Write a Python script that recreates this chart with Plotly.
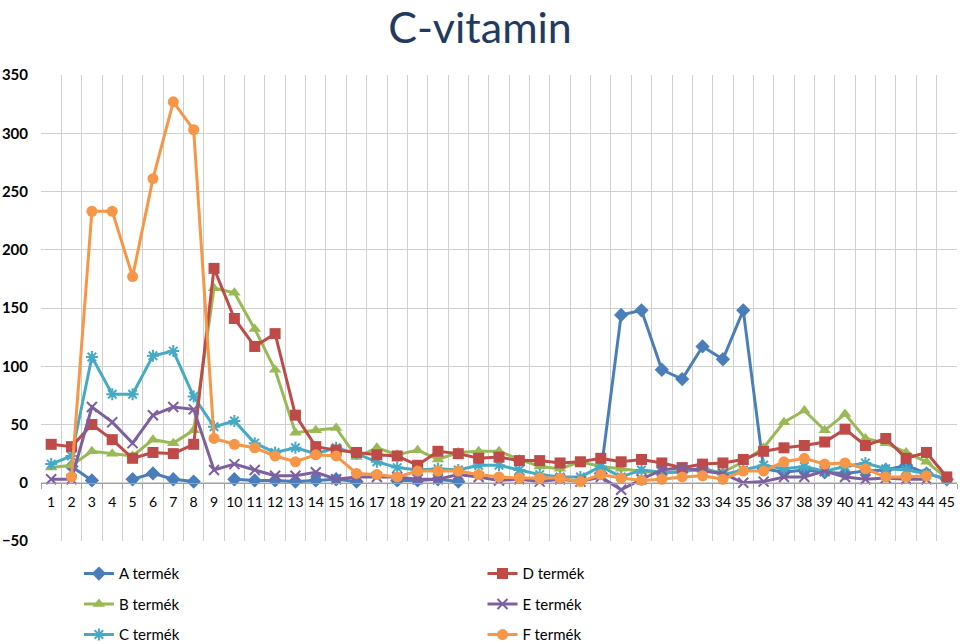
import plotly.graph_objects as go

N = None
categories = [str(i) for i in range(1, 46)]

a_termek = [N, 14, 2, N, 3, 8, 3, 1, N, 3, 2, 2, 1, 2, 3, 1, N, 2, 2, 3, 1,
            N, N, N, N, N, N, 8, 144, 148, 97, 89, 117, 106, 148, 12, 9, 11, 9, 8,
            10, 11, 15, 8, 3]
b_termek = [13, 15, 27, 25, 23, 37, 34, 45, 167, 163, 132, 97, 43, 45, 47, 22, 30, 24, 28, 20,
            26, 27, 27, 20, 14, 12, 18, 14, 12, 10, 8, 10, 11, 9, 18, 30, 52, 62, 45, 59,
            38, 34, 26, 18, 4]
c_termek = [16, 23, 108, 76, 76, 109, 113, 74, 48, 53, 34, 26, 30, 25, 30, 25, 18, 13, 11, 12,
            11, 15, 15, 11, 7, 5, 5, 14, 5, 11, 9, 9, 13, 7, 11, 15, 12, 14, 10, 14,
            17, 12, 11, 8, 3]
d_termek = [33, 31, 50, 37, 21, 26, 25, 33, 184, 141, 117, 128, 58, 31, 28, 26, 24, 23, 15, 27,
            25, 21, 22, 19, 19, 17, 18, 21, 18, 20, 17, 13, 16, 17, 20, 27, 30, 32, 35, 46,
            32, 38, 21, 26, 5]
e_termek = [3, 3, 65, 52, 34, 58, 65, 63, 11, 16, 11, 6, 6, 9, 3, 5, 5, 5, 3, 3,
            7, 5, 2, 3, 1, 3, 1, 5, -6, 3, 11, 13, 10, 8, 0, 1, 5, 5, 10, 5,
            3, 4, 3, 3, N]
f_termek = [N, 5, 233, 233, 177, 261, 327, 303, 38, 33, 30, 23, 18, 24, 23, 8, 7, 5, 10, 10,
            10, 7, 5, 4, 4, 4, 1, 7, 4, 2, 3, 5, 6, 3, 10, 10, 18, 21, 16, 17,
            12, 5, 5, 6, N]

y_ticks = [-50, 0, 50, 100, 150, 200, 250, 300, 350]

series = [
    ("A termék", a_termek, "#4A7EBB", "diamond", "legend"),
    ("B termék", b_termek, "#98B954", "triangle-up", "legend"),
    ("C termék", c_termek, "#46AAC5", "asterisk-open", "legend"),
    ("D termék", d_termek, "#BE4B48", "square", "legend2"),
    ("E termék", e_termek, "#7D60A0", "x-thin-open", "legend2"),
    ("F termék", f_termek, "#F79646", "circle", "legend2"),
]

fig = go.Figure()
for name, vals, color, sym, leg in series:
    open_sym = sym.endswith("-open")
    fig.add_trace(go.Scatter(
        x=categories, y=vals, name=name, mode="lines+markers",
        line=dict(color=color, width=3),
        marker=dict(symbol=sym, size=11 if not open_sym else 10, color=color,
                    line=dict(color=color, width=2 if open_sym else 0)),
        legend=leg, legendgroup=name,
    ))

font_family = "Lato, 'Open Sans', sans-serif"
fig.update_layout(
    width=960, height=644,
    margin=dict(l=41, r=3, t=75, b=103, autoexpand=False),
    paper_bgcolor="white", plot_bgcolor="white",
    font=dict(family=font_family, size=14, color="black"),
    title=dict(text="C-vitamin", x=0.5, xanchor="center", y=1 - 28 / 644, yanchor="middle",
               font=dict(size=43, color="#1F3B5F", family=font_family)),
    xaxis=dict(type="category", categoryorder="array", categoryarray=categories,
               tickvals=categories, ticktext=categories, tickangle=0,
               tickson="boundaries", showgrid=True, gridcolor="#D0D0D0", gridwidth=1,
               anchor="free", position=0.125, showline=True, linecolor="#A0A0A0",
               ticks="outside", ticklen=5, tickcolor="#A0A0A0",
               ticklabelstandoff=6, tickfont=dict(size=14), zeroline=False,
               range=[-0.5, 44.5]),
    yaxis=dict(range=[-50, 350], tickvals=y_ticks, showgrid=True, gridcolor="#D0D0D0",
               gridwidth=1, zeroline=False, showline=False, ticks="",
               tickfont=dict(size=15, color="black", family="Lato, sans-serif", weight="bold"),
               ticklabelstandoff=12),
    legend=dict(x=0.0414, y=-0.035, xanchor="left", yanchor="top", orientation="v",
                tracegroupgap=8, font=dict(size=15), bgcolor="rgba(0,0,0,0)"),
    legend2=dict(x=0.482, y=-0.035, xanchor="left", yanchor="top", orientation="v",
                 tracegroupgap=8, font=dict(size=15), bgcolor="rgba(0,0,0,0)"),
)

fig.write_html("out.html")
